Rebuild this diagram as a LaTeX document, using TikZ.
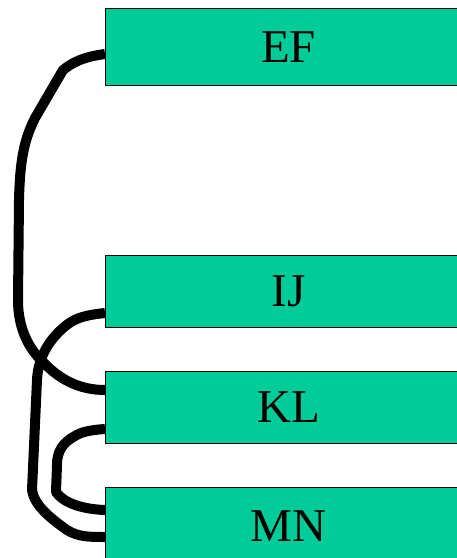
\documentclass[tikz,border=0pt]{standalone}
\usepackage{fontspec}
\setmainfont{Liberation Serif}
\definecolor{boxfill}{HTML}{00CC99}
\begin{document}
\begin{tikzpicture}[x=1pt,y=-1pt,
  block/.style={draw=black,line width=1pt,fill=boxfill,anchor=north west,
    minimum width=366pt,inner sep=0pt,
    font=\fontsize{47}{50}\selectfont},
  wire/.style={draw=black,line width=10pt,line join=round}]
\useasboundingbox (0,0) rectangle (457,558);
\begin{scope}
\clip (0,0) rectangle (457,558);
\node[block,minimum height=77pt] (ef) at (105,8) {EF};
\node[block,minimum height=72pt] (ij) at (105,255) {IJ};
\node[block,minimum height=72pt] (kl) at (105,371) {KL};
\node[block,minimum height=78pt] (mn) at (105,487) {MN};
\end{scope}
% EF to KL
\draw[wire] ([yshift=32pt]ef.south west)
  .. controls (82,57) and (72,63) .. (63,70)
  -- (35,118) .. controls (24,140) and (20,160) .. (19,200)
  -- (18,300) .. controls (18,330) and (30,350) .. (43,362)
  .. controls (60,380) and (80,390) .. ([yshift=-19pt]kl.north west);
% IJ to MN
\draw[wire] ([yshift=15pt]ij.south west)
  .. controls (86,315) and (76,318) .. (68,324)
  .. controls (52,336) and (38,355) .. (37,380)
  -- (32,490) .. controls (34,505) and (50,518) .. (67,530)
  .. controls (78,537) and (90,537) .. ([yshift=-50pt]mn.north west);
% KL to MN
\draw[wire] ([yshift=15pt]kl.south west)
  .. controls (90,430) and (81,432) .. (75,436)
  .. controls (62,443) and (57,452) .. (57,465)
  -- (56,492) .. controls (62,501) and (78,509) .. ([yshift=-23pt]mn.north west);
\end{tikzpicture}
\end{document}
